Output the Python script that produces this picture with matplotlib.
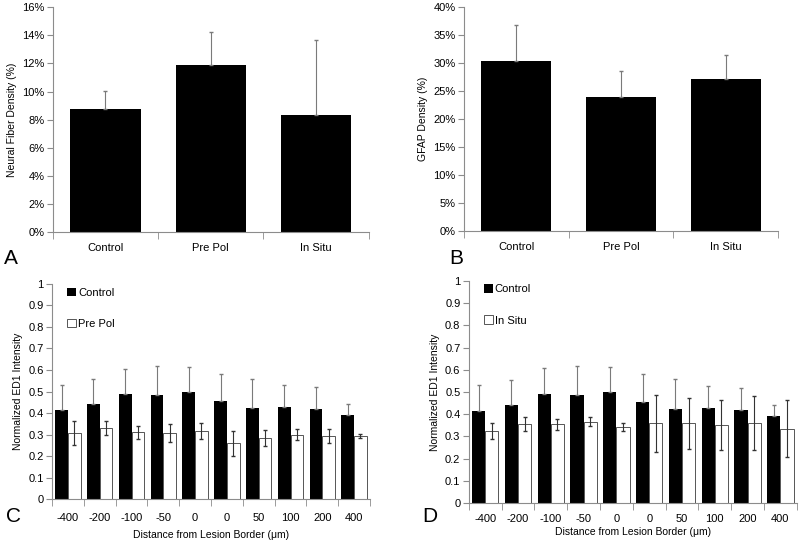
import numpy as np
import matplotlib.pyplot as plt
from matplotlib.ticker import FuncFormatter, FixedLocator

plt.rcParams['font.family'] = ['Liberation Sans', 'DejaVu Sans']
plt.rcParams['font.size'] = 8

# panel A / B data
groups = ['Control', 'Pre Pol', 'In Situ']
fiber = [0.0874, 0.1187, 0.0834]
fiber_err = [0.0133, 0.0235, 0.0533]
gfap = [0.304, 0.240, 0.271]
gfap_err = [0.063, 0.046, 0.044]

# panel C / D data
distances = ['-400', '-200', '-100', '-50', '0', '0', '50', '100', '200', '400']
ed1_control = [0.416, 0.440, 0.489, 0.485, 0.498, 0.456, 0.424, 0.428, 0.418, 0.390]
ed1_control_err = [0.113, 0.116, 0.117, 0.134, 0.116, 0.126, 0.134, 0.100, 0.101, 0.053]
ed1_prepol = [0.306, 0.330, 0.311, 0.306, 0.317, 0.259, 0.285, 0.299, 0.293, 0.293]
ed1_prepol_err = [0.056, 0.031, 0.030, 0.043, 0.037, 0.058, 0.038, 0.025, 0.032, 0.009]
ed1_insitu = [0.323, 0.355, 0.355, 0.365, 0.343, 0.358, 0.358, 0.350, 0.361, 0.334]
ed1_insitu_err = [0.037, 0.033, 0.025, 0.020, 0.017, 0.127, 0.113, 0.112, 0.121, 0.129]

axis_col = '#8c8c8c'
err_col = '#7a7a7a'


def style_axes(ax, n):
    for s in ['top', 'right']:
        ax.spines[s].set_visible(False)
    for s in ['left', 'bottom']:
        ax.spines[s].set_color(axis_col)
        ax.spines[s].set_linewidth(0.8)
    ax.set_xlim(-0.5, n - 0.5)
    ax.xaxis.set_minor_locator(FixedLocator(np.arange(n + 1) - 0.5))
    ax.tick_params(axis='x', which='major', length=0, pad=8)
    ax.tick_params(axis='x', which='minor', length=5, color=axis_col, direction='out')
    ax.tick_params(axis='y', length=4, color=axis_col, direction='out', pad=2)


fig = plt.figure(figsize=(8, 5.43), dpi=100)

# A
axA = fig.add_axes([0.066, 0.5727, 0.395, 0.414])
x = np.arange(len(groups))
axA.bar(x, fiber, width=0.67, color='black')
axA.errorbar(x, fiber, yerr=[np.zeros(3), fiber_err], fmt='none', ecolor=err_col,
             elinewidth=0.8, capsize=1.5)
axA.set_ylim(0, 0.16)
axA.set_yticks(np.arange(0, 0.161, 0.02))
axA.yaxis.set_major_formatter(FuncFormatter(lambda v, p: f'{v * 100:.0f}%'))
axA.set_xticks(x)
axA.set_xticklabels(groups)
axA.set_ylabel('Neural Fiber Density (%)', fontsize=7.5)
style_axes(axA, 3)

# B
axB = fig.add_axes([0.58, 0.5746, 0.3925, 0.4125])
axB.bar(x, gfap, width=0.67, color='black')
axB.errorbar(x, gfap, yerr=[np.zeros(3), gfap_err], fmt='none', ecolor=err_col,
             elinewidth=0.8, capsize=1.5)
axB.set_ylim(0, 0.40)
axB.set_yticks(np.arange(0, 0.401, 0.05))
axB.yaxis.set_major_formatter(FuncFormatter(lambda v, p: f'{v * 100:.0f}%'))
axB.set_xticks(x)
axB.set_xticklabels(groups)
axB.set_ylabel('GFAP Density (%)', fontsize=7.5)
style_axes(axB, 3)


def ed1_panel(rect, other, other_err, other_label, tick_pad, label_pad):
    ax = fig.add_axes(rect)
    xi = np.arange(len(distances))
    w = 0.4
    ax.bar(xi - w / 2, ed1_control, width=w, color='black', label='Control')
    ax.errorbar(xi - w / 2, ed1_control, yerr=[np.zeros(len(xi)), ed1_control_err],
                fmt='none', ecolor=err_col, elinewidth=0.8, capsize=1.5)
    ax.bar(xi + w / 2, other, width=w, color='white', edgecolor='#555555',
           linewidth=0.7, label=other_label)
    ax.errorbar(xi + w / 2, other, yerr=other_err, fmt='none', ecolor='#333333',
                elinewidth=0.8, capsize=1.5)
    ax.set_ylim(0, 1)
    ax.set_yticks(np.arange(0, 1.01, 0.1))
    ax.yaxis.set_major_formatter(FuncFormatter(lambda v, p: f'{round(v, 1):g}'))
    ax.set_xticks(xi)
    ax.set_xticklabels(distances)
    ax.set_ylabel('Normalized ED1 Intensity', fontsize=7.5)
    ax.set_xlabel('Distance from Lesion Border (\u03bcm)', fontsize=7.5, labelpad=label_pad)
    style_axes(ax, len(distances))
    ax.tick_params(axis='x', which='major', pad=tick_pad)
    ax.legend(loc='upper left', bbox_to_anchor=(0.015, 1.03), frameon=False,
              handlelength=0.8, handleheight=0.8, handletextpad=0.2,
              labelspacing=1.9, fontsize=8)
    return ax


axC = ed1_panel([0.065, 0.081, 0.3975, 0.396], ed1_prepol, ed1_prepol_err, 'Pre Pol', 10, 5)
axD = ed1_panel([0.586, 0.0737, 0.41, 0.409], ed1_insitu, ed1_insitu_err, 'In Situ', 8, 2)

# panel letters
for lbl, px, py in [('A', 4, 258), ('B', 449, 258), ('C', 6, 517), ('D', 422, 516)]:
    fig.text(px / 800, 1 - py / 543, lbl, fontsize=15, va='center', ha='left')

fig.savefig('out.png', dpi=100)
